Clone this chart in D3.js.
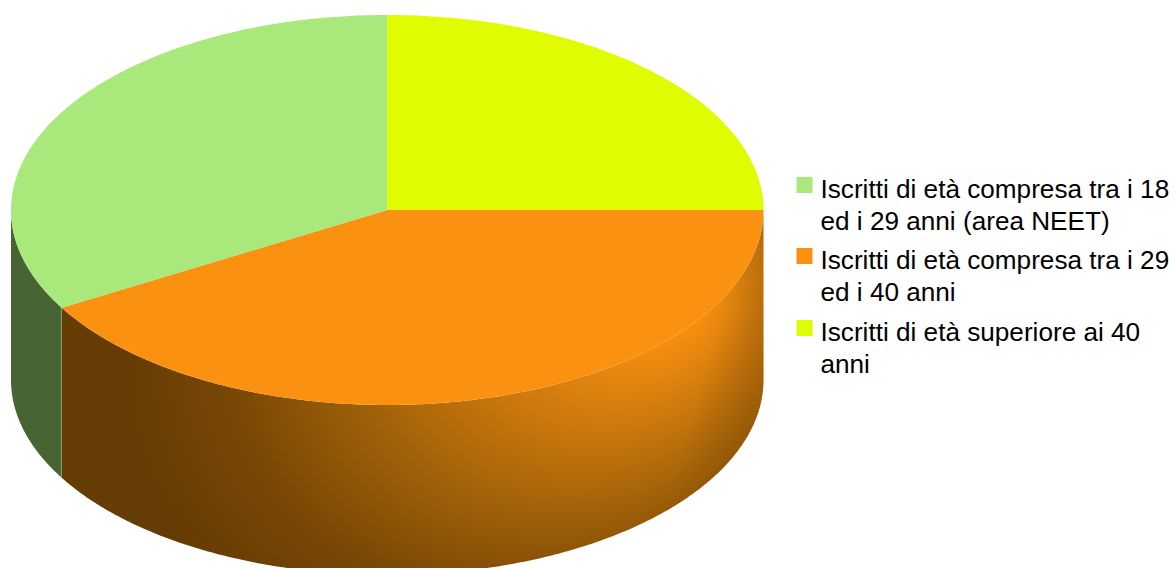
<!DOCTYPE html>
<html><head><meta charset="utf-8">
<script src="https://cdn.jsdelivr.net/npm/d3@7/dist/d3.min.js"></script>
<style>html,body{margin:0;padding:0;background:#fff;overflow:hidden}</style>
</head><body><svg id="c" width="1176" height="568"></svg>
<script>
const categories = ["18-29","29-40","40+"];
const shares = [33.35, 41.65, 25.0];
const topColors = ["#a9e97b","#fb9110","#e0fc00"];
const legendLines = [
  ["Iscritti di età compresa tra i 18","ed i 29 anni (area NEET)"],
  ["Iscritti di età compresa tra i 29","ed i 40 anni"],
  ["Iscritti di età superiore ai 40","anni"]
];
const W=1176,H=568;
const svg=d3.select("#c");
const x=d3.scaleLinear().domain([-1,1]).range([11,763.5]);
const y=d3.scaleLinear().domain([1,-1]).range([15,405]);
const depth=170;
const order=[2,1,0];
const pie=d3.pie().sort(null).value(i=>shares[i]);
const arcs=pie(order);
const line=d3.line();
const rim=(a0,a1,dy=0)=>{
  const n=Math.max(2,Math.ceil((a1-a0)/0.01));
  return d3.range(n+1).map(i=>{const a=a0+(a1-a0)*i/n;return [x(Math.sin(a)),y(Math.cos(a))+dy];});
};
const defs=svg.append("defs");
const cx=x(0),cy=y(0);
const rg=defs.append("radialGradient").attr("id","sideO").attr("gradientUnits","userSpaceOnUse")
  .attr("cx",0).attr("cy",0).attr("r",1).attr("fx",0.4).attr("fy",0)
  .attr("gradientTransform","translate(520,335) rotate(-15) scale(400,330)");
[[0,"#fb9110"],[0.14,"#f58e10"],[0.5,"#b06a0a"],[0.8,"#7a4805"],[1,"#653c03"]].forEach(s=>rg.append("stop").attr("offset",s[0]).attr("stop-color",s[1]));
const edge=defs.append("linearGradient").attr("id","edgeO").attr("gradientUnits","userSpaceOnUse")
  .attr("x1",715).attr("y1",330).attr("x2",768).attr("y2",345);
[[0,0],[1,0.2]].forEach(s=>edge.append("stop").attr("offset",s[0]).attr("stop-color","#5a3400").attr("stop-opacity",s[1]));
const gg=defs.append("linearGradient").attr("id","sideG").attr("gradientUnits","userSpaceOnUse")
  .attr("x1",57).attr("y1",0).attr("x2",62).attr("y2",0);
[[0,"#476432"],[0.6,"#476432"],[1,"#66925a"]].forEach(s=>gg.append("stop").attr("offset",s[0]).attr("stop-color",s[1]));

const sidePath=(a0,a1)=>{
  const up=rim(a0,a1), down=rim(a0,a1,depth).reverse();
  return line(up.concat(down))+"Z";
};
const vis=arcs.map(d=>({i:d.data,a0:Math.max(d.startAngle,Math.PI/2),a1:Math.min(d.endAngle,Math.PI*1.5)})).filter(d=>d.a1>d.a0);
const sideFill={0:"url(#sideG)",1:"url(#sideO)"};
svg.append("g").selectAll("path").data(vis).join("path")
  .attr("d",d=>sidePath(d.a0,d.a1)).attr("fill",d=>sideFill[d.i]);
const o=vis.find(d=>d.i===1);
svg.append("path").attr("d",sidePath(o.a0,o.a1)).attr("fill","url(#edgeO)");
svg.append("g").selectAll("path").data(arcs).join("path")
  .attr("d",d=>line([[cx,cy]].concat(rim(d.startAngle,d.endAngle)))+"Z")
  .attr("fill",d=>topColors[d.data]);
const lineTops=[198,269,341];
const leg=svg.append("g").selectAll("g").data(legendLines).join("g");
leg.append("rect").attr("x",796.5).attr("y",(d,i)=>lineTops[i]-21).attr("width",16).attr("height",16)
  .attr("fill",(d,i)=>topColors[i]);
leg.each(function(d,i){
  d3.select(this).selectAll("text").data(d).join("text")
    .attr("x",820.5).attr("y",(t,j)=>lineTops[i]+j*31.5)
    .attr("font-family","'Liberation Sans'").attr("font-size",26.15).attr("fill","#000").text(t=>t);
});
</script></body></html>
